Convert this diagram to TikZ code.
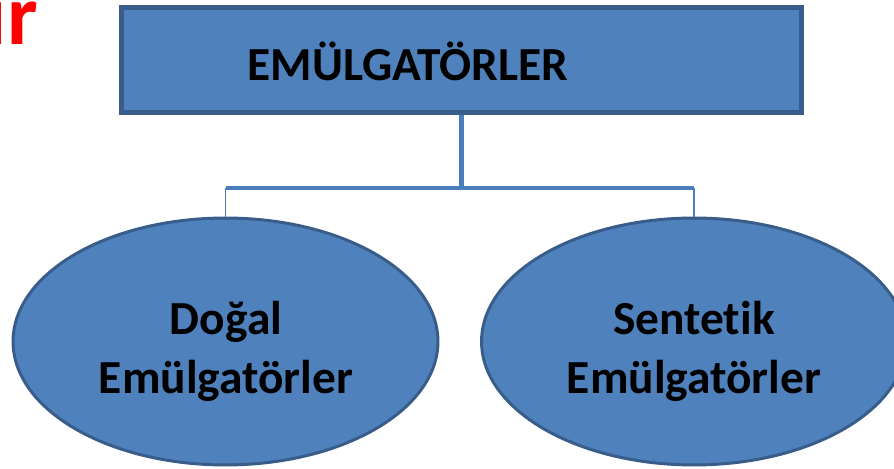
\documentclass[tikz,border=0pt]{standalone}
\usepackage{fontspec}
\setmainfont{Carlito}[Ligatures=NoCommon]
\usetikzlibrary{shapes.geometric}
\definecolor{kutu}{HTML}{4F81BD}
\definecolor{kenar}{HTML}{385D8A}
\definecolor{baglanti}{HTML}{4A7EBB}
\tikzset{
  ana/.style={draw=kenar, fill=kutu, line width=2.8pt, minimum width=13.6cm, minimum height=2.1cm, inner sep=0pt},
  dal/.style={ellipse, draw=kenar, fill=kutu, line width=1.7pt, minimum width=8.5cm, minimum height=4.94cm, inner sep=0pt},
  yazi/.style={align=center, font=\fontsize{27}{33.5}\selectfont\bfseries}
}
\begin{document}
\begin{tikzpicture}[x=0.02cm, y=-0.02cm]
\useasboundingbox (0,0) rectangle (894,469);

%Baslik
\node[red, anchor=base east, inner sep=0pt, font=\fontsize{49}{59}\selectfont\bfseries] (baslik) at (38,45) {ur};

%Kutu
\node[ana] (kok) at (461.5,60) {};
\node[yazi] (kokyazi) at (408,61) {EMÜLGATÖRLER};

%Elipsler
\node[dal] (dogal) at (225.5,341.5) {};
\node[dal] (sentetik) at (694,341.5) {};
\node[yazi] (dogalyazi) at (226,351) {Doğal\\Emülgatörler};
\node[yazi] (sentetikyazi) at (694,351) {Sentetik\\Emülgatörler};

%Baglantilar
\coordinate (orta) at (461.5,188);
\draw[baglanti, line width=2.5pt] (kok.south) -- (orta);
\draw[baglanti, line width=2.2pt] (dogal.north |- orta) -- (sentetik.north |- orta);
\draw[baglanti, line width=1.1pt] (dogal.north |- orta) -- (dogal.north);
\draw[baglanti, line width=1.1pt] (sentetik.north |- orta) -- (sentetik.north);
\end{tikzpicture}
\end{document}
